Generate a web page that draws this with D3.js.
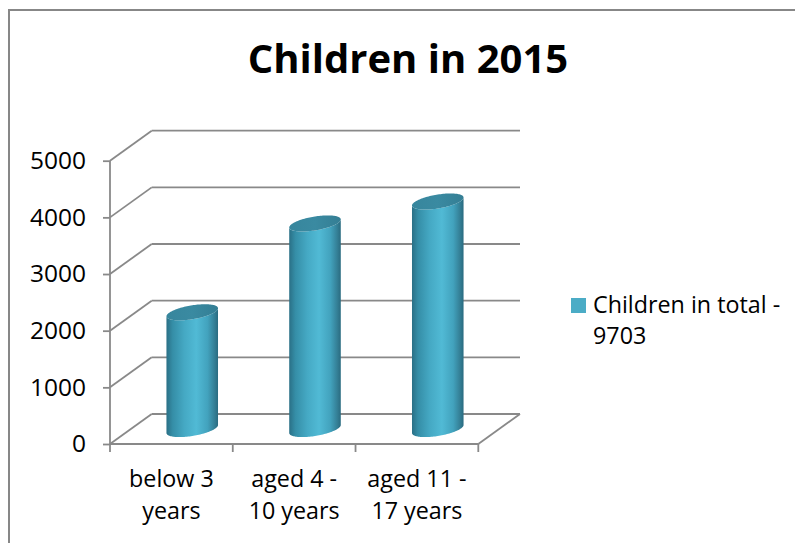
<!DOCTYPE html>
<html>
<head>
<meta charset="utf-8">
<script src="https://cdn.jsdelivr.net/npm/d3@7"></script>
<style>
  html, body { margin: 0; padding: 0; background: #fff; }
  svg { display: block; }
</style>
</head>
<body>
<svg id="chart" width="795" height="543"></svg>
<script>
// ---- data ----
const categories = ["below 3 years", "aged 4 - 10 years", "aged 11 - 17 years"];
const categoryLines = [["below 3", "years"], ["aged 4 -", "10 years"], ["aged 11 -", "17 years"]];
const values = [2060, 3628, 4015];
const yTicks = [0, 1000, 2000, 3000, 4000, 5000];
const seriesName = ["Children in total -", "9703"];
const chartTitle = "Children in 2015";

// ---- layout ----
const W = 795, H = 543;
const svg = d3.select("#chart");
const gridColor = "#898989";
const font = "'Open Sans', 'Noto Sans', sans-serif";

// chart border
svg.append("rect").attr("x", 9).attr("y", 10).attr("width", W + 20).attr("height", H + 20)
  .attr("fill", "#fff").attr("stroke", "#878787").attr("stroke-width", 2);

// title
svg.append("text").attr("x", 408).attr("y", 73).attr("text-anchor", "middle")
  .attr("font-family", font).attr("font-weight", 700).attr("font-size", 40)
  .attr("fill", "#000").text(chartTitle);

// scales
const x = d3.scaleBand().domain(categories).range([110, 478.3]).paddingInner(0).paddingOuter(0);
const y = d3.scaleLinear().domain([0, 5000]).range([444, 160.7]);
const depthX = 41.7, depthY = -30;   // 3D depth offset of back wall

const g = svg.append("g");

// side wall diagonals & back wall lines
yTicks.forEach(v => {
  const y0 = y(v);
  g.append("line").attr("x1", x.range()[0]).attr("y1", y0)
    .attr("x2", x.range()[0] + depthX).attr("y2", y0 + depthY)
    .attr("stroke", gridColor).attr("stroke-width", 1.8);
  g.append("line").attr("x1", x.range()[0] + depthX).attr("y1", y0 + depthY)
    .attr("x2", x.range()[1] + depthX).attr("y2", y0 + depthY)
    .attr("stroke", gridColor).attr("stroke-width", 1.8);
});
// floor front edge and right edge
g.append("line").attr("x1", x.range()[0]).attr("y1", y(0)).attr("x2", x.range()[1]).attr("y2", y(0))
  .attr("stroke", gridColor).attr("stroke-width", 1.8);
g.append("line").attr("x1", x.range()[1]).attr("y1", y(0)).attr("x2", x.range()[1] + depthX).attr("y2", y(0) + depthY)
  .attr("stroke", gridColor).attr("stroke-width", 1.8);
// front vertical axis
g.append("line").attr("x1", x.range()[0]).attr("y1", y(0)).attr("x2", x.range()[0]).attr("y2", y(5000))
  .attr("stroke", gridColor).attr("stroke-width", 1.8);

// y axis (ticks + labels)
const yAxis = d3.axisLeft(y).tickValues(yTicks).tickSize(7).tickPadding(17).tickFormat(d3.format("d"));
const ya = g.append("g").attr("transform", `translate(${x.range()[0]},0)`).call(yAxis);
ya.select(".domain").remove();
ya.selectAll(".tick line").attr("stroke", gridColor).attr("stroke-width", 1.8);
ya.selectAll(".tick text").attr("font-family", font).attr("font-size", 24.5).attr("fill", "#000");

// x axis ticks at band boundaries
const boundaries = categories.map(c => x(c)).concat([x.range()[1]]);
boundaries.forEach(bx => {
  g.append("line").attr("x1", bx).attr("y1", y(0)).attr("x2", bx).attr("y2", y(0) + 8)
    .attr("stroke", gridColor).attr("stroke-width", 1.8);
});
// x labels
categories.forEach((c, i) => {
  const t = g.append("text").attr("x", x(c) + x.bandwidth() / 2).attr("y", 486.7)
    .attr("text-anchor", "middle").attr("font-family", font).attr("font-size", 23.3).attr("fill", "#000");
  categoryLines[i].forEach((line, j) => {
    t.append("tspan").attr("x", x(c) + x.bandwidth() / 2).attr("dy", j === 0 ? 0 : 32.7).text(line);
  });
});

// gradients
const defs = svg.append("defs");
const sideGrad = defs.append("linearGradient").attr("id", "cylSide").attr("x1", "0").attr("x2", "1").attr("y1", "0").attr("y2", "0");
[[0, "#2a7086"], [0.12, "#358ea7"], [0.35, "#45a9c4"], [0.58, "#51bad5"], [0.8, "#42a2bd"], [0.93, "#347f96"], [1, "#2a6b80"]]
  .forEach(([o, c]) => sideGrad.append("stop").attr("offset", o).attr("stop-color", c));
const topGrad = defs.append("linearGradient").attr("id", "cylTop").attr("x1", "0").attr("x2", "1").attr("y1", "0").attr("y2", "0");
[[0, "#37869d"], [0.5, "#3a8aa1"], [1, "#347e94"]]
  .forEach(([o, c]) => topGrad.append("stop").attr("offset", o).attr("stop-color", c));

// cylinders
const halfW = x.bandwidth() * 0.21;
const semiB = 7;
const shear = -0.155;
function ellPt(cx, cy, t) {
  return [cx + halfW * Math.cos(t), cy + semiB * Math.sin(t) + shear * halfW * Math.cos(t)];
}
categories.forEach((c, i) => {
  const cx = x(c) + x.bandwidth() / 2 + depthX / 2;
  const yb = y(0) + depthY / 2;
  const yt = y(values[i]) + depthY / 2;
  const N = 60;
  const p = d3.path();
  let s = ellPt(cx, yt, 0);
  p.moveTo(s[0], s[1]);
  s = ellPt(cx, yb, 0); p.lineTo(s[0], s[1]);
  for (let k = 1; k <= N; k++) { const q = ellPt(cx, yb, Math.PI * k / N); p.lineTo(q[0], q[1]); }
  s = ellPt(cx, yt, Math.PI); p.lineTo(s[0], s[1]);
  for (let k = N - 1; k >= 0; k--) { const q = ellPt(cx, yt, Math.PI * k / N); p.lineTo(q[0], q[1]); }
  p.closePath();
  g.append("path").attr("d", p.toString()).attr("fill", "url(#cylSide)");
  const pt = d3.path();
  for (let k = 0; k <= 2 * N; k++) {
    const q = ellPt(cx, yt, Math.PI * k / N);
    if (k === 0) pt.moveTo(q[0], q[1]); else pt.lineTo(q[0], q[1]);
  }
  pt.closePath();
  g.append("path").attr("d", pt.toString()).attr("fill", "url(#cylTop)");
});

// legend
svg.append("rect").attr("x", 571).attr("y", 298).attr("width", 15).attr("height", 15).attr("fill", "#4bacc6");
const lt = svg.append("text").attr("x", 593).attr("y", 312.7).attr("font-family", font)
  .attr("font-size", 23.3).attr("fill", "#000");
seriesName.forEach((line, j) => {
  lt.append("tspan").attr("x", 593).attr("dy", j === 0 ? 0 : 31.3).text(line);
});
</script>
</body>
</html>
